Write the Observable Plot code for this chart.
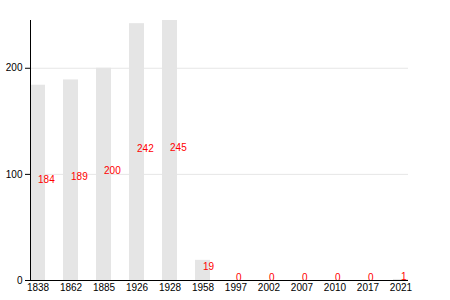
<!DOCTYPE html>
<html>
<head>
<meta charset="utf-8">
<script src="https://cdn.jsdelivr.net/npm/d3@7"></script>
<script src="https://cdn.jsdelivr.net/npm/@observablehq/plot@0.6"></script>
<style>
  html, body { margin: 0; padding: 0; background: #fff; }
  #chart { width: 450px; height: 300px; }
</style>
</head>
<body>
<div id="chart"></div>
<script>
const years = ["1838","1862","1885","1926","1928","1958","1997","2002","2007","2010","2017","2021"];
const values = [184, 189, 200, 242, 245, 19, 0, 0, 0, 0, 0, 1];
const yTicks = [0, 100, 200];

const data = years.map((year, i) => ({year, value: values[i]}));

const chart = Plot.plot({
  width: 450,
  height: 300,
  marginLeft: 30,
  marginRight: 42,
  marginTop: 20,
  marginBottom: 20,
  style: {fontFamily: "'Liberation Sans', Arial, sans-serif", fontSize: "10px", background: "#fff", color: "#000"},
  x: {type: "band", domain: years, range: [30, 408], paddingInner: 0.545, paddingOuter: 0, align: 0, round: false, label: null},
  y: {domain: [0, 245], ticks: yTicks, label: null},
  marks: [
    Plot.gridY(yTicks.filter(d => d > 0), {stroke: "#e6e6e6", strokeOpacity: 1, strokeWidth: 1}),
    Plot.barY(data, {x: "year", y: "value", fill: "#e5e5e5"}),
    Plot.text(data, {x: "year", y: d => d.value / 2, text: d => String(d.value), fill: "#ff0000", textAnchor: "start", lineAnchor: "bottom", dy: 0, fontSize: 10}),
    Plot.axisX({tickSize: 0, tickPadding: 3, fontSize: 10}),
    Plot.axisY({ticks: yTicks, tickSize: 5, tickPadding: 3, fontSize: 10}),
    Plot.ruleY([0], {stroke: "#000"}),
    Plot.frame({anchor: "left", stroke: "#000"})
  ]
});
document.getElementById("chart").appendChild(chart);
</script>
</body>
</html>
